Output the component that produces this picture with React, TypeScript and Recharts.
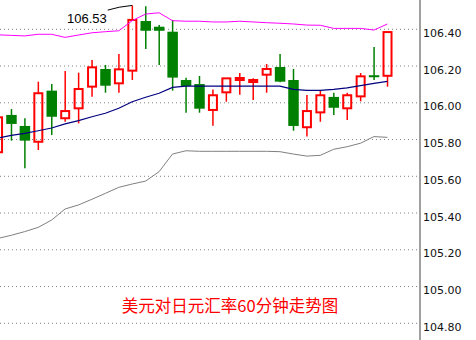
import React from 'react';
import { ComposedChart, Bar, Line, XAxis, YAxis, CartesianGrid, ReferenceDot } from 'recharts';

// 60-minute candles (index only, no time labels shown)
const slots = [1, 2, 3, 4, 5, 6, 7, 8, 9, 10, 11, 12, 13, 14, 15, 16, 17, 18, 19, 20, 21, 22, 23, 24, 25, 26, 27, 28, 29, 30];
const opens = [105.731, 105.934, 105.874, 105.788, 106.066, 105.916, 105.970, 106.088, 106.184, 106.106, 106.175, 106.445, 106.414, 106.387, 106.124, 106.102, 105.961, 106.057, 106.124, 106.113, 106.153, 106.195, 106.124, 105.867, 105.948, 106.032, 105.970, 106.035, 106.150, 106.147];
const highs = [105.960, 105.966, 105.916, 106.115, 106.102, 106.173, 106.164, 106.233, 106.206, 106.266, 106.530, 106.525, 106.423, 106.451, 106.137, 106.146, 106.073, 106.135, 106.162, 106.133, 106.211, 106.266, 106.184, 106.042, 106.066, 106.055, 106.055, 106.162, 106.304, 106.385];
const lows = [105.700, 105.794, 105.644, 105.743, 105.825, 105.897, 105.888, 106.033, 106.055, 106.055, 106.124, 106.293, 106.206, 106.066, 105.946, 105.946, 105.875, 106.006, 106.044, 106.015, 106.055, 106.112, 105.848, 105.816, 105.897, 105.934, 105.906, 106.008, 106.124, 106.088];
const closes = [105.921, 105.885, 105.794, 106.052, 105.924, 105.955, 106.075, 106.193, 106.093, 106.182, 106.451, 106.392, 106.392, 106.137, 106.091, 105.968, 106.041, 106.133, 106.135, 106.124, 106.184, 106.115, 105.874, 105.955, 106.041, 105.973, 106.041, 106.144, 106.148, 106.385];
const upperBand = [106.370, 106.367, 106.364, 106.373, 106.373, 106.356, 106.369, 106.381, 106.387, 106.392, 106.447, 106.483, 106.490, 106.447, 106.444, 106.444, 106.440, 106.440, 106.444, 106.440, 106.436, 106.433, 106.429, 106.423, 106.422, 106.405, 106.405, 106.405, 106.396, 106.429];
const middleBand = [105.808, 105.823, 105.834, 105.848, 105.863, 105.885, 105.903, 105.924, 105.943, 105.970, 106.006, 106.030, 106.052, 106.084, 106.091, 106.091, 106.091, 106.091, 106.091, 106.091, 106.091, 106.091, 106.073, 106.068, 106.068, 106.073, 106.081, 106.093, 106.106, 106.117];
const lowerBand = [105.262, 105.279, 105.299, 105.322, 105.362, 105.422, 105.444, 105.475, 105.507, 105.540, 105.558, 105.574, 105.625, 105.721, 105.739, 105.736, 105.736, 105.736, 105.736, 105.736, 105.736, 105.734, 105.721, 105.710, 105.714, 105.747, 105.761, 105.780, 105.816, 105.812];
const priceTicks = [104.8, 105.0, 105.2, 105.4, 105.6, 105.8, 106.0, 106.2, 106.4];
const peakSlot = 11;
const peakValue = 106.53;
const title = '美元对日元汇率60分钟走势图';

const data = slots.map((s, i) => ({
  slot: s,
  open: opens[i],
  high: highs[i],
  low: lows[i],
  close: closes[i],
  upper: upperBand[i],
  middle: middleBand[i],
  lower: lowerBand[i],
}));

const Candle = (props: any) => {
  const { x, y, width, height, payload } = props;
  if (!payload) return null;
  const { open, close, high, low } = payload;
  const top = Math.min(y, y + height);
  const h = Math.abs(height);
  const py = (v: number) => (high === low ? top : top + ((high - v) / (high - low)) * h);
  const cx = x + width / 2;
  const up = close >= open;
  const color = up ? '#ff0000' : '#008000';
  const bt = py(Math.max(open, close));
  const bb = py(Math.min(open, close));
  if (up) {
    const bw = 8;
    return (
      <g>
        <line x1={cx} x2={cx} y1={py(high)} y2={bt} stroke={color} strokeWidth={1.5} />
        <line x1={cx} x2={cx} y1={bb} y2={py(low)} stroke={color} strokeWidth={1.5} />
        <rect x={cx - bw / 2} y={bt} width={bw} height={Math.max(bb - bt, 0.5)} fill="none" stroke={color} strokeWidth={2} />
      </g>
    );
  }
  const bw = 10.5;
  return (
    <g>
      <line x1={cx} x2={cx} y1={py(high)} y2={py(low)} stroke={color} strokeWidth={1.5} />
      <rect x={cx - bw / 2} y={bt} width={bw} height={Math.max(bb - bt, 2)} fill={color} />
    </g>
  );
};

const PriceTick = (props: any) => {
  const { x, y, payload } = props;
  return (
    <text x={x + 3} y={y + 7.6} fill="#111" fontFamily="DejaVu Sans" fontSize={11}>
      {Number(payload.value).toFixed(2)}
    </text>
  );
};

const PeakMark = (props: any) => {
  const { cx, cy } = props;
  if (cx == null || cy == null) return null;
  return (
    <g>
      <polyline points={`${cx - 24.5},${cy + 4.7} ${cx - 13},${cy + 1.8} ${cx},${cy}`} fill="none" stroke="#000" strokeWidth={1} />
      <text x={cx - 25.5} y={cy + 17.3} textAnchor="end" fontFamily="Liberation Sans" fontSize={13} fill="#000">
        {peakValue.toFixed(2)}
      </text>
    </g>
  );
};

export default function App() {
  return (
    <div style={{ position: 'fixed', left: 0, top: 0, width: 476, height: 340, overflow: 'hidden', background: '#fff' }}>
      <div style={{ position: 'absolute', left: -20, top: 0 }}>
        <ComposedChart width={496} height={340} data={data} margin={{ top: 0, right: 0, bottom: 0, left: 0 }}>
          <CartesianGrid vertical={false} stroke="#808080" strokeDasharray="1 3" horizontalValues={priceTicks} />
          <XAxis dataKey="slot" type="category" hide padding={{ left: 11.2, right: 25.9 }} />
          <YAxis
            orientation="right"
            width={56}
            domain={[104.709, 106.5595]}
            allowDataOverflow
            ticks={priceTicks}
            interval={0}
            tickSize={0}
            tickMargin={0}
            tickLine={false}
            tick={<PriceTick />}
            axisLine={{ stroke: '#808080', strokeWidth: 1.5 }}
          />
          <Bar dataKey={(d: any) => [d.low, d.high]} shape={<Candle />} isAnimationActive={false} />
          <Line dataKey="upper" type="linear" stroke="#ff00ff" strokeWidth={1} dot={false} activeDot={false} isAnimationActive={false} />
          <Line dataKey="middle" type="linear" stroke="#000080" strokeWidth={1.2} dot={false} activeDot={false} isAnimationActive={false} />
          <Line dataKey="lower" type="linear" stroke="#808080" strokeWidth={1} dot={false} activeDot={false} isAnimationActive={false} />
          <ReferenceDot x={peakSlot} y={peakValue} r={0} shape={<PeakMark />} />
          <text x={250} y={312.4} textAnchor="middle" fontFamily="Noto Sans CJK SC" fontSize={16.5} fill="#ff0000">
            {title}
          </text>
        </ComposedChart>
      </div>
    </div>
  );
}
